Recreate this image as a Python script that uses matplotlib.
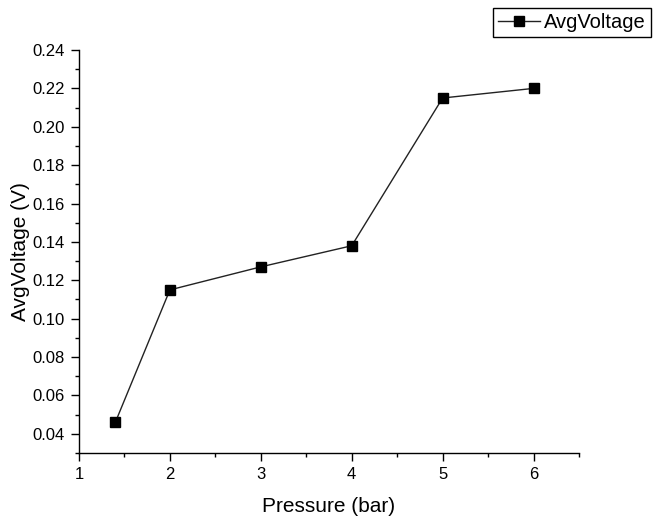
import matplotlib.pyplot as plt
from matplotlib.ticker import MultipleLocator

plt.rcParams['font.family'] = ['Liberation Sans', 'DejaVu Sans']

# measured pressure vs. average voltage
pressure = [1.4, 2, 3, 4, 5, 6]
avg_voltage = [0.046, 0.115, 0.127, 0.138, 0.215, 0.220]

fig = plt.figure(figsize=(6.57, 5.21), dpi=100)
ax = fig.add_axes([0.1202, 0.1305, 0.7611, 0.7735])

ax.plot(pressure, avg_voltage, color='#222222', linewidth=1.0,
        marker='s', markersize=6.5, markerfacecolor='black',
        markeredgecolor='black', label='AvgVoltage')

ax.set_xlim(1, 6.5)
ax.set_ylim(0.03, 0.24)
ax.xaxis.set_major_locator(MultipleLocator(1))
ax.xaxis.set_minor_locator(MultipleLocator(0.5))
ax.yaxis.set_major_locator(MultipleLocator(0.02))
ax.yaxis.set_minor_locator(MultipleLocator(0.01))
ax.yaxis.set_major_formatter(plt.FormatStrFormatter('%.2f'))

for side in ['top', 'right']:
    ax.spines[side].set_visible(False)
for side in ['left', 'bottom']:
    ax.spines[side].set_linewidth(1.0)

ax.tick_params(which='major', direction='out', length=6, width=1.0,
               labelsize=12, pad=4)
ax.tick_params(which='minor', direction='out', length=3, width=1.0)

ax.set_xlabel('Pressure (bar)', fontsize=15, labelpad=11)
ax.set_ylabel('AvgVoltage (V)', fontsize=15, labelpad=2)

leg = ax.legend(loc='upper left', bbox_to_anchor=(493 / 657, 1 - 8 / 521),
                bbox_transform=fig.transFigure, fontsize=14.5, fancybox=False,
                framealpha=1, edgecolor='black', borderpad=0.25,
                handlelength=2.1, handletextpad=0.2, borderaxespad=0)
leg.get_frame().set_linewidth(1.0)

fig.savefig('out.png', dpi=100)
